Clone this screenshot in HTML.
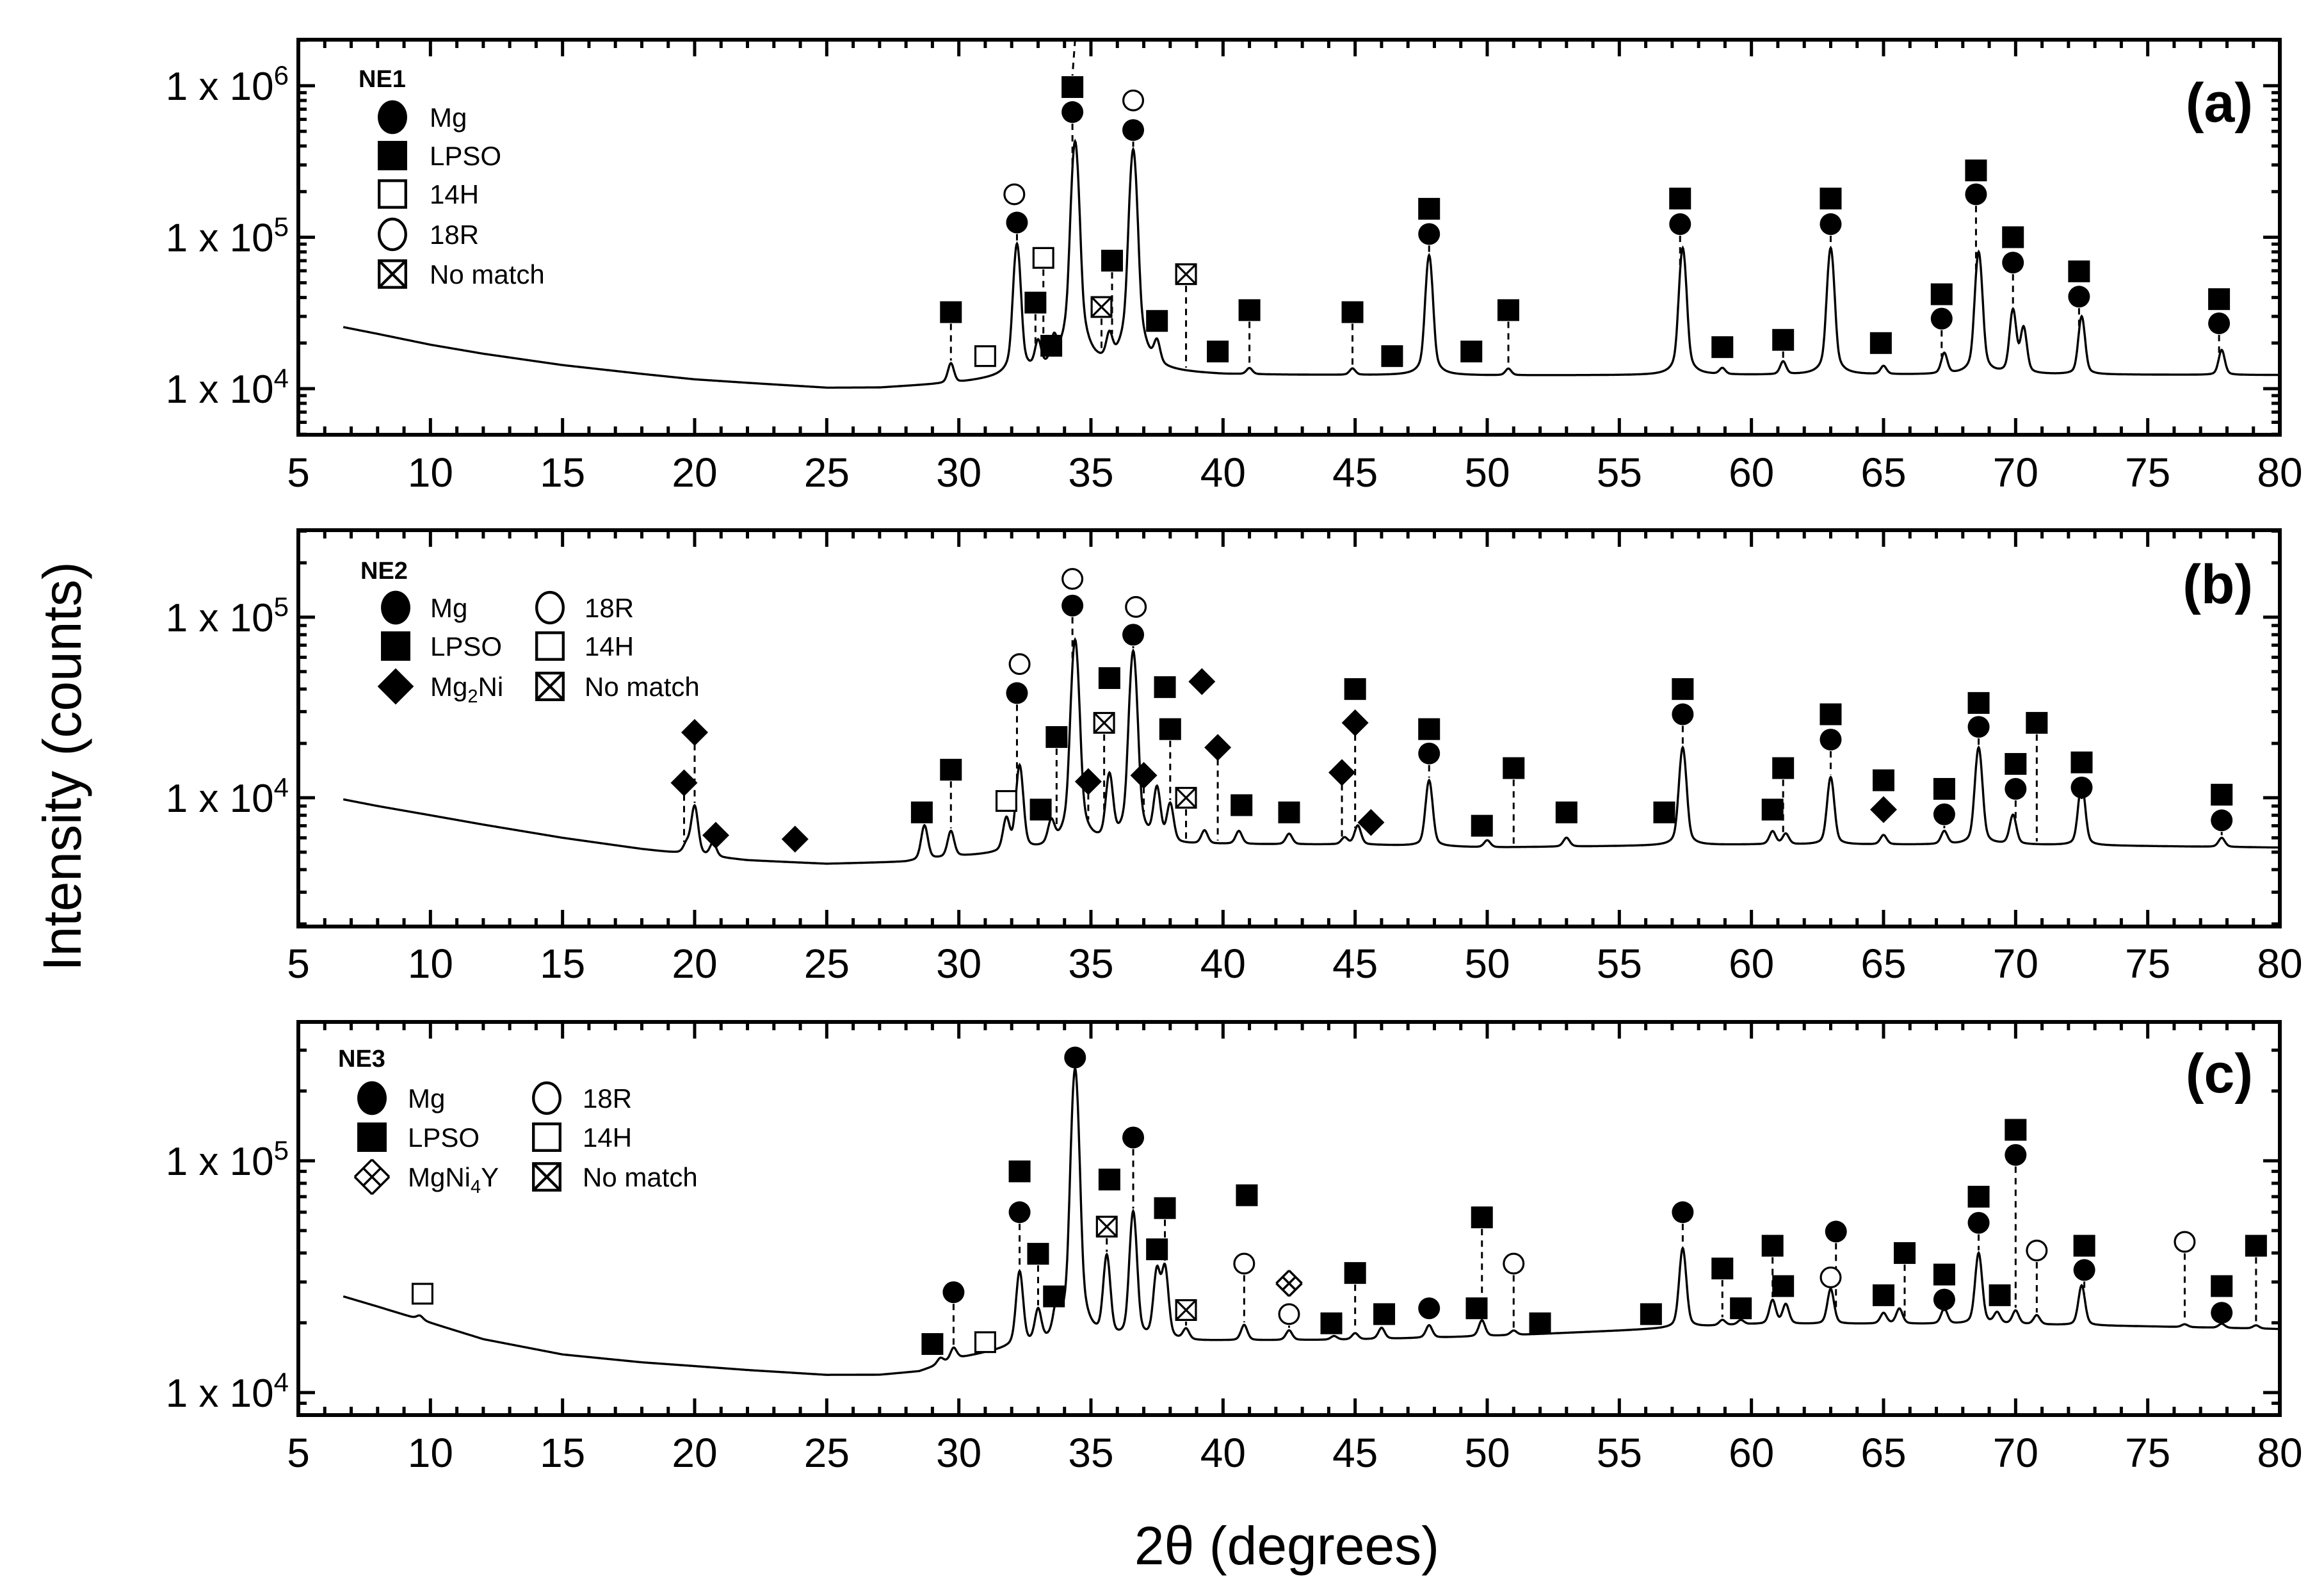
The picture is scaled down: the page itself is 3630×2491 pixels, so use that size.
<!DOCTYPE html>
<html><head><meta charset="utf-8">
<style>
html,body{margin:0;padding:0;background:#fff;}
svg{display:block;font-family:"Liberation Sans",Arial,sans-serif;}
</style></head>
<body>
<svg id="chart" xmlns="http://www.w3.org/2000/svg" width="3630" height="2491" viewBox="0 0 3630 2491">
<rect width="3630" height="2491" fill="#fff"/>
<text x="97" y="1197" font-size="84" text-anchor="middle" dominant-baseline="central" transform="rotate(-90 97 1197)">Intensity (counts)</text>
<text x="2010" y="2443" font-size="84" text-anchor="middle">2θ (degrees)</text>
</svg>
<script>
// ---------- Panel (a) NE1 data ----------
const aBgX = [6.7, 8, 10, 12, 15, 18, 20, 22, 25, 27, 30, 32, 35, 38, 40, 50, 60, 70, 80];
const aBgY = [25500, 23000, 19500, 17000, 14300, 12500, 11500, 10900, 10100, 10100, 10800, 11800, 12800, 12600, 12300, 12200, 12300, 12400, 12300];
const aPeakX = [29.7, 32.2, 33.0, 33.6, 34.4, 35.7, 36.6, 37.5, 41.0, 44.9, 47.8, 50.8, 57.4, 58.9, 61.2, 63.0, 65.0, 67.3, 68.6, 69.9, 70.3, 72.5, 77.8];
const aPeakY = [14500, 90000, 19000, 19000, 430000, 20000, 380000, 18500, 13500, 13500, 76000, 13500, 85000, 13500, 15000, 85000, 14000, 17000, 80000, 33000, 25000, 30000, 18000];
const aMarkX = [29.7, 31.0, 32.1, 32.2, 32.9, 33.5, 33.2, 34.3, 34.3, 35.4, 35.8, 36.6, 36.6, 37.5, 38.6, 39.8, 41.0, 44.9, 46.4, 47.8, 47.8, 49.4, 50.8, 57.3, 57.3, 58.9, 61.2, 63.0, 63.0, 64.9, 67.2, 67.2, 68.5, 68.5, 69.9, 69.9, 72.4, 72.4, 77.7, 77.7];
const aMarkY = [32000, 16400, 192000, 125000, 37000, 19200, 73000, 980000, 670000, 34600, 70000, 800000, 510000, 28000, 57000, 17600, 33000, 32000, 16400, 154000, 105000, 17600, 33000, 180000, 122000, 18800, 21000, 180000, 122000, 20000, 42000, 29000, 276000, 192000, 100000, 68000, 59500, 40500, 39000, 27000];
const aMarkType = ['s','os','oc','c','s','s','os','s','c','x','s','oc','c','s','x','s','s','s','s','s','c','s','s','s','c','s','s','s','c','s','s','c','s','c','s','c','s','c','s','c'];
const aMarkLine = [1,0,0,1,1,0,1,0,1,1,1,0,1,0,1,0,1,1,0,0,1,0,1,0,1,0,1,0,1,0,0,1,0,1,0,1,0,1,0,1];

// ---------- Panel (b) NE2 data ----------
const bBgX = [6.7, 8, 10, 12, 15, 18, 20, 22, 25, 28, 30, 35, 40, 45, 50, 60, 70, 80];
const bBgY = [9800, 9000, 8000, 7100, 6000, 5200, 4800, 4500, 4300, 4400, 4700, 5300, 5500, 5500, 5300, 5500, 5500, 5300];
const bPeakX = [19.7, 20.0, 20.7, 28.7, 29.7, 31.8, 32.3, 33.5, 34.4, 35.7, 36.6, 37.5, 38.0, 39.3, 40.6, 42.5, 44.6, 45.1, 47.8, 50.0, 53.0, 57.4, 60.8, 61.3, 63.0, 65.0, 67.3, 68.6, 69.9, 72.5, 77.8];
const bPeakY = [5500, 9000, 5600, 7000, 6500, 7500, 15000, 7000, 75000, 13000, 65000, 11000, 9000, 6500, 6500, 6300, 6000, 7000, 12500, 5800, 6000, 19000, 6500, 6300, 13000, 6200, 6500, 19000, 8000, 12000, 6000];
const bMarkX = [19.6, 20.0, 20.8, 23.8, 28.6, 29.7, 31.8, 32.3, 32.2, 33.1, 33.7, 34.9, 34.3, 34.3, 35.7, 35.5, 36.7, 36.6, 37.0, 37.8, 38.0, 38.6, 39.2, 39.8, 40.7, 42.5, 44.5, 45.0, 45.0, 45.6, 47.8, 47.8, 49.8, 51.0, 53.0, 56.7, 57.4, 57.4, 60.8, 61.2, 63.0, 63.0, 65.0, 65.0, 67.3, 67.3, 68.6, 68.6, 70.0, 70.0, 70.8, 72.5, 72.5, 77.8, 77.8];
const bMarkY = [12100, 23000, 6200, 5900, 8300, 14300, 9600, 55000, 38000, 8600, 21700, 12300, 163000, 116000, 46000, 26000, 114000, 80000, 13300, 41000, 24000, 10000, 44000, 19000, 9100, 8300, 13800, 40000, 26000, 7300, 24000, 17600, 7000, 14600, 8300, 8300, 40000, 29000, 8600, 14600, 29000, 21000, 12500, 8600, 11200, 8100, 33500, 24700, 15400, 11200, 26000, 15700, 11400, 10400, 7500];
const bMarkType = ['d','d','d','d','s','s','os','oc','c','s','s','d','oc','c','s','x','oc','c','d','s','s','x','d','d','s','s','d','s','d','d','s','c','s','s','s','s','s','c','s','s','s','c','s','d','s','c','s','c','s','c','s','s','c','s','c'];
const bMarkLine = [1,1,0,0,0,1,0,0,1,0,1,1,0,1,0,1,0,1,1,0,1,1,0,1,0,0,1,0,1,0,0,1,0,1,0,0,0,1,0,1,0,1,0,0,0,1,0,1,0,1,1,0,1,0,1];

// ---------- Panel (c) NE3 data ----------
const cBgX = [6.7, 8, 10, 12, 15, 18, 20, 22, 25, 27, 28.5, 30, 32, 35, 40, 45, 50, 55, 60, 65, 70, 75, 80];
const cBgY = [26000, 23500, 20000, 17000, 14600, 13500, 13000, 12500, 11900, 11900, 12300, 14000, 15500, 16300, 16700, 16900, 17500, 18500, 19700, 19800, 19700, 19300, 18800];
const cPeakX = [9.6, 29.3, 29.8, 32.3, 33.0, 33.7, 34.4, 35.6, 36.6, 37.5, 37.8, 38.6, 40.8, 42.5, 44.2, 45.0, 46.0, 47.8, 49.8, 51.0, 57.4, 58.9, 59.6, 60.8, 61.3, 63.0, 65.0, 65.6, 67.3, 68.6, 69.3, 70.0, 70.8, 72.5, 76.4, 77.8, 79.1];
const cPeakY = [21500, 14000, 15500, 33000, 22000, 22000, 250000, 38000, 60000, 33000, 34000, 18500, 19500, 18500, 17500, 18000, 19000, 19500, 20500, 18500, 42000, 20500, 20500, 25000, 24000, 28000, 22000, 23000, 23000, 40000, 22000, 22500, 21500, 29000, 19700, 19800, 19500];
const cMarkX = [9.7, 29.0, 29.8, 31.0, 32.3, 32.3, 33.0, 33.6, 34.4, 35.7, 35.6, 36.6, 37.5, 37.8, 38.6, 40.9, 40.8, 42.5, 42.5, 44.1, 45.0, 46.1, 47.8, 49.6, 49.8, 51.0, 52.0, 56.2, 57.4, 58.9, 59.6, 60.8, 61.2, 63.2, 63.0, 65.0, 65.8, 67.3, 67.3, 68.6, 68.6, 69.4, 70.0, 70.0, 70.8, 72.6, 72.6, 76.4, 77.8, 77.8, 79.1];
const cMarkY = [26700, 16200, 27100, 16500, 90000, 60000, 39700, 26000, 279000, 83000, 52000, 126000, 41500, 62500, 22700, 71000, 36000, 29600, 21800, 19900, 32800, 21800, 23100, 23100, 57000, 36000, 19900, 21800, 60000, 34300, 23100, 43000, 28800, 49500, 31400, 26300, 40000, 32300, 25200, 70000, 54000, 26300, 136000, 106000, 41000, 43000, 33800, 44700, 28800, 22100, 43000];
const cMarkType = ['os','s','c','os','s','c','s','s','c','s','x','c','s','s','x','s','oc','m','oc','s','s','s','c','s','s','oc','s','s','c','s','s','s','s','c','oc','s','s','s','c','s','c','s','s','c','oc','s','c','oc','s','c','s'];
const cMarkLine = [0,0,1,0,0,1,1,0,1,0,1,1,0,1,1,0,1,0,1,0,1,0,0,0,1,1,0,0,1,1,0,1,0,1,1,0,1,0,1,0,1,0,0,1,1,0,1,1,0,1,1];

// x-axis tick labels
const xTickLabels = ['5','10','15','20','25','30','35','40','45','50','55','60','65','70','75','80'];

const NS = 'http://www.w3.org/2000/svg';
const svg = document.getElementById('chart');
const X0 = 466, X1 = 3561, XMIN = 5, XMAX = 80;
function xs(v){ return X0 + (v - XMIN) / (XMAX - XMIN) * (X1 - X0); }
function mk(tag, attrs, parent){
  const e = document.createElementNS(NS, tag);
  for (const k in attrs) e.setAttribute(k, attrs[k]);
  (parent || svg).appendChild(e);
  return e;
}
function interpLog(xa, ya, x){
  if (x <= xa[0]) return ya[0];
  for (let i = 1; i < xa.length; i++){
    if (x <= xa[i]){
      const t = (x - xa[i-1]) / (xa[i] - xa[i-1]);
      return Math.pow(10, Math.log10(ya[i-1]) * (1 - t) + Math.log10(ya[i]) * t);
    }
  }
  return ya[ya.length - 1];
}

const panels = [
  {id:'a', top:62, bottom:679, ymin:3.6956, ymax:6.304, decades:[4,5,6], bgX:aBgX, bgY:aBgY, pX:aPeakX, pY:aPeakY, mX:aMarkX, mY:aMarkY, mT:aMarkType, mL:aMarkLine, w:0.13, labelY:760, tag:'(a)', tagY:190,
   name:'NE1', nameX:560, nameY:136, legend:[[613,183,'c','Mg'],[613,243,'s','LPSO'],[613,303,'os','14H'],[613,366,'oc','18R'],[613,428,'x','No match']], textDx:58},
  {id:'b', top:828, bottom:1447, ymin:3.287, ymax:5.482, decades:[4,5], bgX:bBgX, bgY:bBgY, pX:bPeakX, pY:bPeakY, mX:bMarkX, mY:bMarkY, mT:bMarkType, mL:bMarkLine, w:0.14, labelY:1527, tag:'(b)', tagY:942,
   name:'NE2', nameX:563, nameY:904, legend:[[618,949,'c','Mg'],[618,1009,'s','LPSO'],[618,1072,'d','Mg2Ni'],[859,949,'oc','18R'],[859,1009,'os','14H'],[859,1072,'x','No match']], textDx:54},
  {id:'c', top:1596, bottom:2210, ymin:3.903, ymax:5.599, decades:[4,5], bgX:cBgX, bgY:cBgY, pX:cPeakX, pY:cPeakY, mX:cMarkX, mY:cMarkY, mT:cMarkType, mL:cMarkLine, w:0.14, labelY:2291, tag:'(c)', tagY:1706,
   name:'NE3', nameX:528, nameY:1666, legend:[[581,1715,'c','Mg'],[581,1776,'s','LPSO'],[581,1838,'m','MgNi4Y'],[854,1715,'oc','18R'],[854,1776,'os','14H'],[854,1838,'x','No match']], textDx:56}
];

function drawMarker(g, type, cx, cy, name, sc){
  let e;
  const r = 17 * sc, sw = 3.2 * sc;
  if (type === 'c') e = mk('ellipse', {cx:cx, cy:cy, rx:r, ry:r*(sc>1?1.15:1), fill:'#000'}, g);
  else if (type === 'oc') e = mk('ellipse', {cx:cx, cy:cy, rx:r-sw/2, ry:(r-sw/2)*(sc>1?1.15:1), fill:'#fff', stroke:'#000', 'stroke-width':sw}, g);
  else if (type === 's') e = mk('rect', {x:cx-r, y:cy-r, width:2*r, height:2*r, fill:'#000'}, g);
  else if (type === 'os') e = mk('rect', {x:cx-r+sw/2, y:cy-r+sw/2, width:2*r-sw, height:2*r-sw, fill:'#fff', stroke:'#000', 'stroke-width':sw}, g);
  else if (type === 'x'){
    e = mk('g', {}, g);
    mk('rect', {x:cx-r+sw/2, y:cy-r+sw/2, width:2*r-sw, height:2*r-sw, fill:'#fff', stroke:'#000', 'stroke-width':sw}, e);
    mk('path', {d:`M${cx-r+sw},${cy-r+sw}L${cx+r-sw},${cy+r-sw}M${cx+r-sw},${cy-r+sw}L${cx-r+sw},${cy+r-sw}`, stroke:'#000', 'stroke-width':sw}, e);
  }
  else if (type === 'd'){ const q = 21 * sc; e = mk('path', {d:`M${cx},${cy-q}L${cx+q},${cy}L${cx},${cy+q}L${cx-q},${cy}Z`, fill:'#000'}, g); }
  else if (type === 'm'){
    e = mk('g', {}, g);
    const s = 10 * sc;
    mk('path', {d:`M${cx-s},${cy-s}L${cx+s},${cy+s}M${cx+s},${cy-s}L${cx-s},${cy+s}M${cx},${cy-2*s}L${cx+2*s},${cy}M${cx-2*s},${cy}L${cx},${cy+2*s}M${cx},${cy-2*s}L${cx-2*s},${cy}M${cx+2*s},${cy}L${cx},${cy+2*s}`, stroke:'#000', 'stroke-width':3.5, fill:'none'}, e);
  }
  
  
  return e;
}

panels.forEach(p => {
  const L = X0, R = X1, T = p.top, B = p.bottom;
  const ys = v => B - (Math.log10(v) - p.ymin) / (p.ymax - p.ymin) * (B - T);
  const g = mk('g', {});
  
  
  const clipId = 'clip-' + p.id;
  const cp = mk('clipPath', {id:clipId}, g);
  mk('rect', {x:L, y:T, width:R-L, height:B-T}, cp);

  // curve (pseudo-Voigt peaks on background)
  const curveFn = x => {
    let v = interpLog(p.bgX, p.bgY, x);
    for (let i = 0; i < p.pX.length; i++){
      const h = p.pY[i] - interpLog(p.bgX, p.bgY, p.pX[i]);
      const d = x - p.pX[i];
      const lor = p.w * p.w / (d * d + p.w * p.w);
      const gau = Math.exp(-0.693 * d * d / (p.w * p.w));
      v += h * (0.35 * lor + 0.65 * gau);
    }
    return v;
  };
  let d = '';
  for (let x = 6.7; x <= 80.001; x += 0.02){
    d += (d ? 'L' : 'M') + xs(x).toFixed(1) + ',' + ys(curveFn(x)).toFixed(1);
  }
  const path = mk('path', {d:d, fill:'none', stroke:'#000', 'stroke-width':3.4, 'clip-path':'url(#'+clipId+')'}, g);
  
  

  // markers with dashed lines
  const mg = mk('g', {'clip-path':'url(#'+clipId+')'}, g);
  
  
  for (let i = 0; i < p.mX.length; i++){
    const cx = xs(p.mX[i]), cy = ys(p.mY[i]);
    if (p.mL[i]){
      const ln = mk('line', {x1:cx, y1:cy+18, x2:cx, y2:ys(curveFn(p.mX[i]))-4, stroke:'#000', 'stroke-width':3, 'stroke-dasharray':'10,8'}, mg);
      
      
    }
    drawMarker(mg, p.mT[i], cx, cy, 'phase-marker', 1);
  }
  if (p.id === 'a'){
    const ln = mk('line', {x1:xs(34.4), y1:T, x2:xs(34.3), y2:ys(980000)-18, stroke:'#000', 'stroke-width':3, 'stroke-dasharray':'10,8'}, mg);
    
    
  }

  // frame
  const fr = mk('rect', {x:L, y:T, width:R-L, height:B-T, fill:'none', stroke:'#000', 'stroke-width':6}, g);
  
  

  // ticks
  let td = '';
  for (let v = 5; v <= 80; v++){
    const len = (v % 5 === 0) ? 26 : 13;
    const x = xs(v);
    td += `M${x},${B}L${x},${B-len}M${x},${T}L${x},${T+len}`;
  }
  for (let dcd = Math.floor(p.ymin); dcd <= Math.ceil(p.ymax); dcd++){
    for (let m = 1; m <= 9; m++){
      const lv = dcd + Math.log10(m);
      if (lv < p.ymin || lv > p.ymax) continue;
      const y = B - (lv - p.ymin) / (p.ymax - p.ymin) * (B - T);
      const len = m === 1 ? 26 : 13;
      td += `M${L},${y}L${L+len},${y}M${R},${y}L${R-len},${y}`;
    }
  }
  const tk = mk('path', {d:td, stroke:'#000', 'stroke-width':5, fill:'none'}, g);
  
  

  xTickLabels.forEach(lbl => {
    const t = mk('text', {x:xs(+lbl), y:p.labelY, 'font-size':64, 'text-anchor':'middle'}, g);
    t.textContent = lbl;
    
    
  });
  p.decades.forEach(dc => {
    const y = ys(Math.pow(10, dc));
    const t = mk('text', {x:451, y:y+22, 'font-size':62, 'text-anchor':'end'}, g);
    
    
    const s1 = mk('tspan', {}, t); s1.textContent = '1 x 10';
    const s2 = mk('tspan', {dy:-24, 'font-size':42}, t); s2.textContent = String(dc);
  });

  const tg = mk('text', {x:3519, y:p.tagY, 'font-size':86, 'font-weight':'bold', 'text-anchor':'end'}, g);
  tg.textContent = p.tag;
  
  

  const lg = mk('g', {}, g);
  
  
  const nm = mk('text', {x:p.nameX, y:p.nameY, 'font-size':38, 'font-weight':'bold'}, lg);
  nm.textContent = p.name;
  
  
  p.legend.forEach(it => {
    drawMarker(lg, it[2], it[0], it[1], 'legend-symbol', 1.35);
    const t = mk('text', {x:it[0]+p.textDx, y:it[1]+15, 'font-size':42}, lg);
    
    
    if (it[3] === 'Mg2Ni'){
      const a = mk('tspan', {}, t); a.textContent = 'Mg';
      const b = mk('tspan', {dy:10, 'font-size':29}, t); b.textContent = '2';
      const c = mk('tspan', {dy:-10}, t); c.textContent = 'Ni';
    } else if (it[3] === 'MgNi4Y'){
      const a = mk('tspan', {}, t); a.textContent = 'MgNi';
      const b = mk('tspan', {dy:10, 'font-size':29}, t); b.textContent = '4';
      const c = mk('tspan', {dy:-10}, t); c.textContent = 'Y';
    } else t.textContent = it[3];
  });
});
</script>
</body></html>
